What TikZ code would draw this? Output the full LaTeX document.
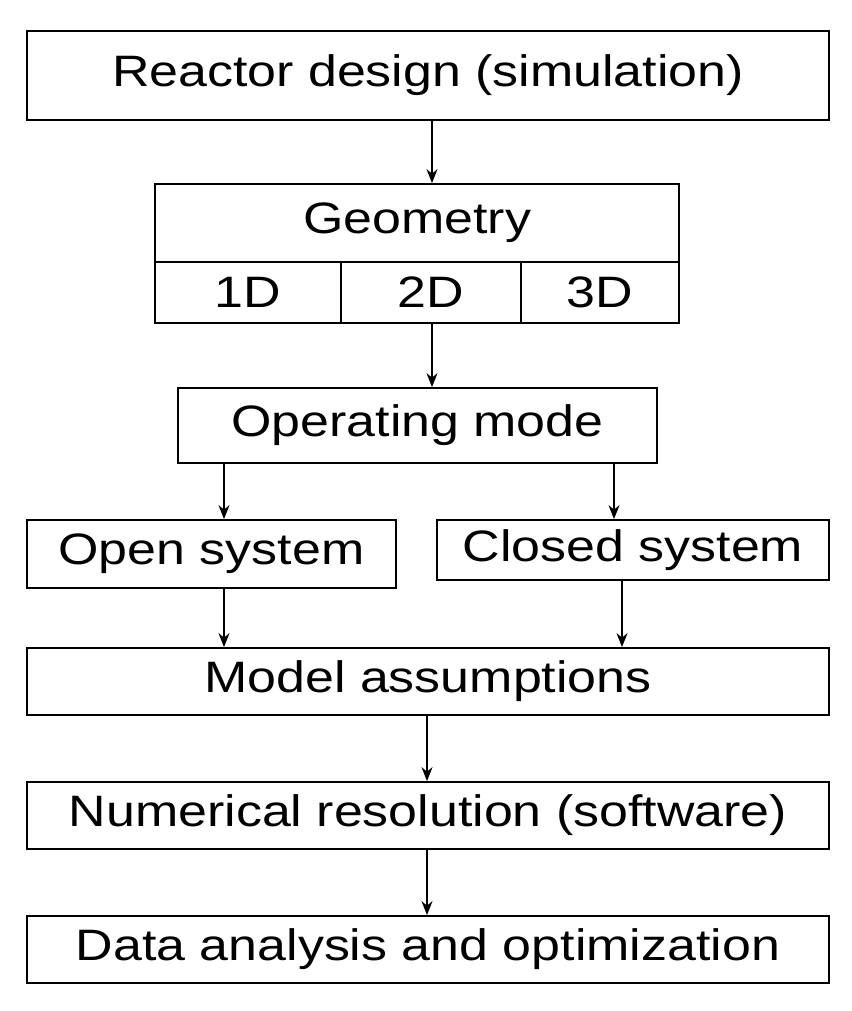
\documentclass[tikz,border=0pt]{standalone}
\usepackage{fontspec}
\setmainfont[FakeStretch=1.18]{Liberation Sans}
\usetikzlibrary{arrows.meta}
\begin{document}
\begin{tikzpicture}[x=1pt,y=-1pt,
  box/.style={draw,line width=1.8pt,rectangle,inner sep=0pt,font=\fontsize{44}{50}\selectfont},
  arr/.style={line width=1.5pt,-{Stealth[length=14pt,width=11pt]}}]
\useasboundingbox (0,0) rectangle (851,1011);
\newcommand\bx[6]{\node[box,minimum width={#4-#2},minimum height={#5-#3}] (#1) at ({(#2+#4)/2},{(#3+#5)/2}) {#6};}
\bx{r}{27}{31}{829}{120}{Reactor design (simulation)}
\bx{g}{155}{184}{679}{262}{Geometry}
\bx{d1}{155}{262}{341}{323}{1D}
\bx{d2}{341}{262}{521}{323}{2D}
\bx{d3}{521}{262}{679}{323}{3D}
\bx{o}{178}{388}{657}{463}{Operating mode}
\bx{op}{27}{520}{396}{588}{Open system}
\bx{cl}{437}{520}{829}{580}{Closed system}
\bx{m}{27}{648}{829}{715}{Model assumptions}
\bx{n}{27}{782}{829}{849}{Numerical resolution (software)}
\bx{da}{27}{916}{829}{983}{Data analysis and optimization}
\draw[arr] (r.south -| 432,0) -- (g.north -| 432,0);
\draw[arr] (d2.south -| 432,0) -- (o.north -| 432,0);
\draw[arr] (o.south -| 224,0) -- (op.north -| 224,0);
\draw[arr] (o.south -| 614,0) -- (cl.north -| 614,0);
\draw[arr] (op.south -| 224,0) -- (m.north -| 224,0);
\draw[arr] (cl.south -| 622,0) -- (m.north -| 622,0);
\draw[arr] (m.south -| 427,0) -- (n.north -| 427,0);
\draw[arr] (n.south -| 427,0) -- (da.north -| 427,0);
\end{tikzpicture}
\end{document}
